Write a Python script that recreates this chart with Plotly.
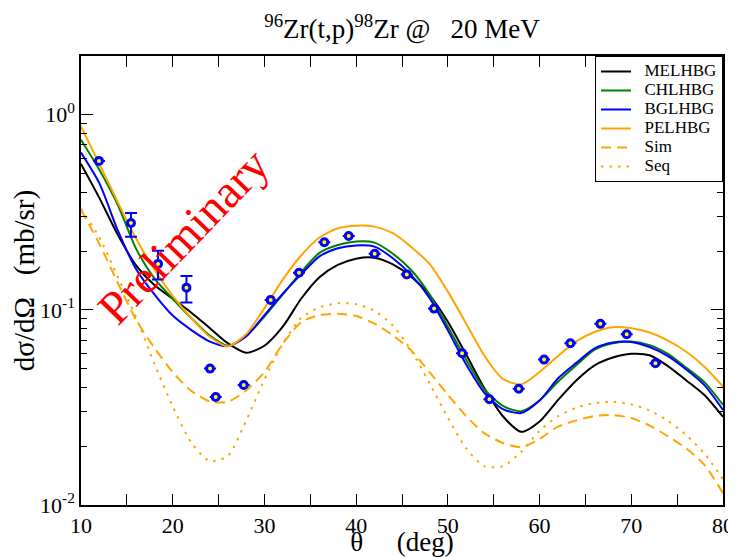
import plotly.graph_objects as go

# ---------------- data ----------------
theta_grid = [10, 12, 14, 16, 18, 20, 22, 24, 26, 28, 30, 32, 34, 36, 38, 40, 42, 44, 46, 48,
              50, 52, 54, 56, 58, 60, 62, 64, 66, 68, 70, 72, 74, 76, 78, 80]

melhbg = [0.56, 0.375, 0.243, 0.169, 0.134, 0.114, 0.097, 0.081, 0.0675, 0.0603, 0.0655, 0.082,
          0.114, 0.147, 0.170, 0.183, 0.185, 0.171, 0.148, 0.119, 0.087, 0.059, 0.0395, 0.0285,
          0.0237, 0.0268, 0.0345, 0.0435, 0.052, 0.057, 0.0595, 0.0585, 0.0515, 0.0435, 0.0365,
          0.0283]

chlhbg = [0.745, 0.522, 0.346, 0.206, 0.145, 0.114, 0.091, 0.074, 0.0655, 0.0735, 0.0925, 0.120,
          0.156, 0.196, 0.215, 0.224, 0.221, 0.194, 0.160, 0.120, 0.082, 0.0555, 0.039, 0.0322,
          0.0302, 0.0343, 0.0428, 0.052, 0.0625, 0.0675, 0.0688, 0.066, 0.0595, 0.0505, 0.0425,
          0.0326]

bglhbg = [0.64, 0.446, 0.256, 0.162, 0.120, 0.0935, 0.079, 0.069, 0.0652, 0.073, 0.094, 0.121,
          0.152, 0.188, 0.207, 0.214, 0.211, 0.184, 0.151, 0.115, 0.0785, 0.0525, 0.0375, 0.031,
          0.0296, 0.0343, 0.0445, 0.0535, 0.0635, 0.068, 0.0685, 0.0645, 0.058, 0.0495, 0.041,
          0.0307]

pelhbg = [0.87, 0.56, 0.357, 0.232, 0.161, 0.118, 0.091, 0.073, 0.065, 0.075, 0.102, 0.143,
          0.190, 0.235, 0.262, 0.270, 0.267, 0.247, 0.210, 0.172, 0.124, 0.085, 0.058, 0.0443,
          0.0415, 0.048, 0.058, 0.069, 0.077, 0.0815, 0.0805, 0.0765, 0.0695, 0.061, 0.051,
          0.0405]

sim = [0.326, 0.218, 0.138, 0.089, 0.064, 0.048, 0.0385, 0.034, 0.0338, 0.0386, 0.048, 0.067,
       0.0865, 0.094, 0.0955, 0.093, 0.085, 0.074, 0.062, 0.048, 0.0367, 0.0285, 0.0233, 0.0208,
       0.0198, 0.0218, 0.0252, 0.0271, 0.0286, 0.0289, 0.0279, 0.0255, 0.0225, 0.0195, 0.016,
       0.0115]

seq = [0.33, 0.235, 0.148, 0.092, 0.053, 0.032, 0.021, 0.0168, 0.0178, 0.027, 0.044, 0.067,
       0.091, 0.103, 0.108, 0.107, 0.099, 0.083, 0.062, 0.042, 0.028, 0.0195, 0.0158, 0.0158,
       0.0187, 0.024, 0.0285, 0.0315, 0.0333, 0.0338, 0.0328, 0.0305, 0.027, 0.0228, 0.0183,
       0.0135]

theta_exp = [11.96, 15.45, 18.4, 21.5, 24.07, 24.69, 27.74, 30.68, 33.77, 36.53, 39.19, 42.02,
             45.52, 48.5, 51.55, 54.53, 57.73, 60.49, 63.36, 66.63, 69.5, 72.63]
sigma_exp = [0.58, 0.279, 0.172, 0.130, 0.050, 0.0358, 0.0412, 0.1125, 0.155, 0.222, 0.239,
             0.194, 0.152, 0.1015, 0.060, 0.0348, 0.0394, 0.0556, 0.0675, 0.0848, 0.075, 0.0533]
err_plus = [None, 0.035, 0.029, 0.019] + [None] * 18
err_minus = [None, 0.042, 0.029, 0.021] + [None] * 18

x_tickvals = [10, 15, 20, 25, 30, 35, 40, 45, 50, 55, 60, 65, 70, 75, 80]
x_ticktext = ["10", "", "20", "", "30", "", "40", "", "50", "", "60", "", "70", "", "80"]
y_tickvals = [0.01, 0.1, 1]
y_ticktext = ["10<sup>-2</sup>", "10<sup>-1</sup>", "10<sup>0</sup>"]
y_minor = [m * d for d in (0.01, 0.1, 1) for m in range(2, 10)]

FONT = "Liberation Serif"
ORANGE = "#FFA500"
NB = "\u00a0"

fig = go.Figure()
series = [
    ("MELHBG", melhbg, "black", "solid"),
    ("CHLHBG", chlhbg, "#008000", "solid"),
    ("BGLHBG", bglhbg, "#0000FF", "solid"),
    ("PELHBG", pelhbg, ORANGE, "solid"),
    ("Sim", sim, ORANGE, "10px,6px"),
    ("Seq", seq, ORANGE, "2.5px,6px"),
]
for name, vals, col, dash in series:
    fig.add_trace(go.Scatter(
        x=theta_grid, y=vals, mode="lines",
        name='<span style="font-size:17px">%s%s</span>' % (NB * 2, name),
        line=dict(color=col, width=2, dash=dash, shape="spline", smoothing=0.7),
    ))

fig.add_trace(go.Scatter(
    x=theta_exp, y=sigma_exp, mode="markers", showlegend=False,
    marker=dict(symbol="circle", size=7, color="yellow",
                line=dict(color="#0000FF", width=3)),
    error_y=dict(type="data", symmetric=False, array=err_plus, arrayminus=err_minus,
                 color="#0000FF", thickness=2, width=6),
))

fig.add_annotation(
    text="Preliminary", xref="paper", yref="paper", x=0.159, y=0.60,
    xanchor="center", yanchor="middle",
    showarrow=False, textangle=-46,
    font=dict(family=FONT, size=47, color="red"),
)

fig.update_layout(
    width=728, height=549,
    paper_bgcolor="white", plot_bgcolor="white",
    margin=dict(l=73, r=13, t=48, b=52),
    font=dict(family=FONT, color="black"),
    title=dict(
        text="<sup>96</sup>Zr(t,p)<sup>98</sup>Zr @" + NB * 3 + "20 MeV",
        x=0.5, xref="paper", y=0.962, yref="container", yanchor="middle",
        font=dict(family=FONT, size=27, color="black"), automargin=False,
    ),
    showlegend=True,
    legend=dict(
        x=1, xanchor="right", y=1, yanchor="top",
        bgcolor="white", bordercolor="black", borderwidth=1,
        font=dict(family=FONT, size=12, color="black"),
        tracegroupgap=0, itemwidth=30,
    ),
)

fig.update_xaxes(
    range=[10, 80], showline=True, linecolor="black", linewidth=1.5, mirror="ticks",
    ticks="inside", ticklen=11, tickwidth=1.2, tickcolor="black",
    tickvals=x_tickvals, ticktext=x_ticktext,
    tickfont=dict(family=FONT, size=22, color="black"),
    showgrid=False, zeroline=False, automargin=False,
    title=dict(text=NB * 3 + "\u03b8" + NB * 5 + "(deg)",
               font=dict(family=FONT, size=27, color="black"), standoff=2),
)
fig.update_yaxes(
    type="log", range=[-2, 0.301], showline=True, linecolor="black", linewidth=1.5,
    mirror="ticks", ticks="inside", ticklen=12, tickwidth=1.2, tickcolor="black",
    tickvals=y_tickvals, ticktext=y_ticktext,
    tickfont=dict(family=FONT, size=22, color="black"),
    minor=dict(tickvals=y_minor, ticks="inside", ticklen=6, tickwidth=1.2, tickcolor="black",
               showgrid=False),
    showgrid=False, zeroline=False, automargin=False,
    title=dict(text="d\u03c3/d\u03a9" + NB * 3 + "(mb/sr)",
               font=dict(family=FONT, size=29, color="black"), standoff=2),
)

fig.write_html("out.html")
